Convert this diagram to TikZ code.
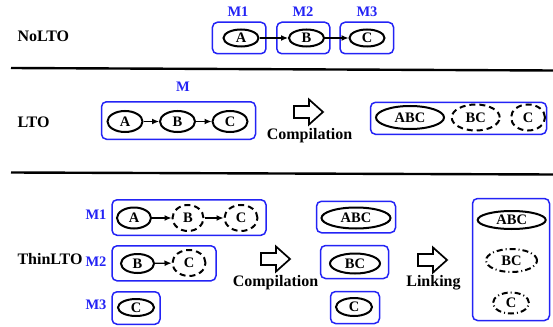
\documentclass[tikz,border=0pt]{standalone}
\usepackage{fontspec}
\setmainfont{Liberation Serif}
\usetikzlibrary{shapes.geometric,arrows.meta}
\definecolor{modblue}{RGB}{35,35,245}
\begin{document}
\begin{tikzpicture}[x=1pt,y=-1pt,
  every node/.style={font=\bfseries},
  modbox/.style 2 args={draw=modblue, line width=1.5pt, rounded corners=5pt,
    minimum width=#1pt, minimum height=#2pt, inner sep=0pt},
  fn/.style 2 args={ellipse, draw=black, line width=2pt, inner sep=0pt,
    minimum width=#1pt, minimum height=#2pt, font=\fontsize{14.5}{14.5}\selectfont\bfseries},
  stub/.style={dash pattern=on 6pt off 4pt},
  merged/.style={dash pattern=on 6pt off 3pt on 1pt off 3pt},
  modlabel/.style={text=modblue, font=\fontsize{14.5}{14.5}\selectfont\bfseries},
  section/.style={anchor=west, font=\fontsize{16}{16}\selectfont\bfseries},
  steplabel/.style={font=\fontsize{16}{16}\selectfont\bfseries},
  conn/.style={line width=1.2pt, -{Latex[length=7pt,width=6pt]}},
  rule/.style={line width=2.4pt},
  hollowarrow/.pic={\draw[line width=1.7pt, line join=miter, fill=white]
    (-15,-6) -- (0,-6) -- (0,-12.5) -- (14,0) -- (0,12.5) -- (0,6) -- (-15,6) -- cycle;}
]
\useasboundingbox (0,0) rectangle (553,326);

% ---------------- NoLTO ----------------
\node[section] (nolto) at (14,36) {NoLTO};
\node[modbox={53.5}{31.5}] (n1) at (239.2,38) {};
\node[modbox={53}{31.5}] (n2) at (303.3,38) {};
\node[modbox={53.5}{31.5}] (n3) at (366.8,38) {};
\node[modlabel] (n1l) at (238,12) {M1};
\node[modlabel] (n2l) at (303,12) {M2};
\node[modlabel] (n3l) at (367,12) {M3};
\node[fn={35}{17}] (na) at (241,38) {A};
\node[fn={35}{17}] (nb) at (306.5,38) {B};
\node[fn={35}{17}] (nc) at (367,38) {C};
\draw[conn] (na) -- (nb);
\draw[conn] (nb) -- (nc);

\coordinate (r1a) at (11,68);
\coordinate (r1b) at (553,70.5);
\draw[rule] (r1a) -- (r1b);

% ---------------- LTO ----------------
\node[section] (lto) at (14,122) {LTO};
\node[modlabel] (lm) at (183,87) {M};
\node[modbox={154}{37.5}] (lbox) at (178.5,120.5) {};
\node[fn={35}{21}] (la) at (125,121.5) {A};
\node[fn={35}{21}] (lb) at (177.5,121.5) {B};
\node[fn={35}{21}] (lc) at (230,121.5) {C};
\draw[conn] (la) -- (lb);
\draw[conn] (lb) -- (lc);

\pic (lcomp) at (309,112) {hollowarrow};
\node[steplabel] (lcompt) at (309.5,136) {Compilation};

\node[modbox={176}{32}] (lout) at (458.5,118.3) {};
\node[fn={68}{23}] (labc) at (410,117.5) {ABC};
\node[fn={48}{26}, stub] (lbc) at (475.7,117.5) {BC};
\node[fn={34}{26}, stub] (lcc) at (528,117.5) {C};

\coordinate (r2a) at (11,172.5);
\coordinate (r2b) at (553,174.5);
\draw[rule] (r2a) -- (r2b);

% ---------------- ThinLTO ----------------
\node[section] (thin) at (14,259) {ThinLTO};
\node[modlabel] (t1l) at (96,215) {M1};
\node[modlabel] (t2l) at (96,262) {M2};
\node[modlabel] (t3l) at (96,305) {M3};

\node[modbox={154}{35.5}] (t1) at (189,217.5) {};
\node[fn={34}{21}] (t1a) at (134,218) {A};
\node[fn={31}{26}, stub] (t1b) at (188,218) {B};
\node[fn={33}{26}, stub] (t1c) at (241,218) {C};
\draw[conn] (t1a) -- (t1b);
\draw[conn] (t1b) -- (t1c);

\node[modbox={104}{35}] (t2) at (164,263.3) {};
\node[fn={33}{19}] (t2b) at (137.5,263.5) {B};
\node[fn={33}{26}, stub] (t2c) at (189,263) {C};
\draw[conn] (t2b) -- (t2c);

\node[modbox={48}{32.5}] (t3) at (136,308) {};
\node[fn={36}{17}] (t3c) at (136,307.5) {C};

\pic (tcomp) at (276,259) {hollowarrow};
\node[steplabel] (tcompt) at (275.5,282.5) {Compilation};

\node[modbox={79}{31.5}] (o1) at (356,217) {};
\node[fn={69}{21}] (o1e) at (356,218) {ABC};
\node[modbox={68}{33}] (o2) at (354.5,262) {};
\node[fn={50}{20}] (o2e) at (355,263.5) {BC};
\node[modbox={49}{32}] (o3) at (355,307.5) {};
\node[fn={36}{18}] (o3e) at (354,307) {C};

\pic (tlink) at (433,260) {hollowarrow};
\node[steplabel] (tlinkt) at (433.5,283) {Linking};

\node[modbox={77}{122}] (fin) at (511,259.5) {};
\node[fn={68}{18}] (fabc) at (511.7,220) {ABC};
\node[fn={51}{23}, merged] (fbc) at (511.5,260.5) {BC};
\node[fn={36}{21}, merged] (fc) at (511,303) {C};
\end{tikzpicture}
\end{document}
